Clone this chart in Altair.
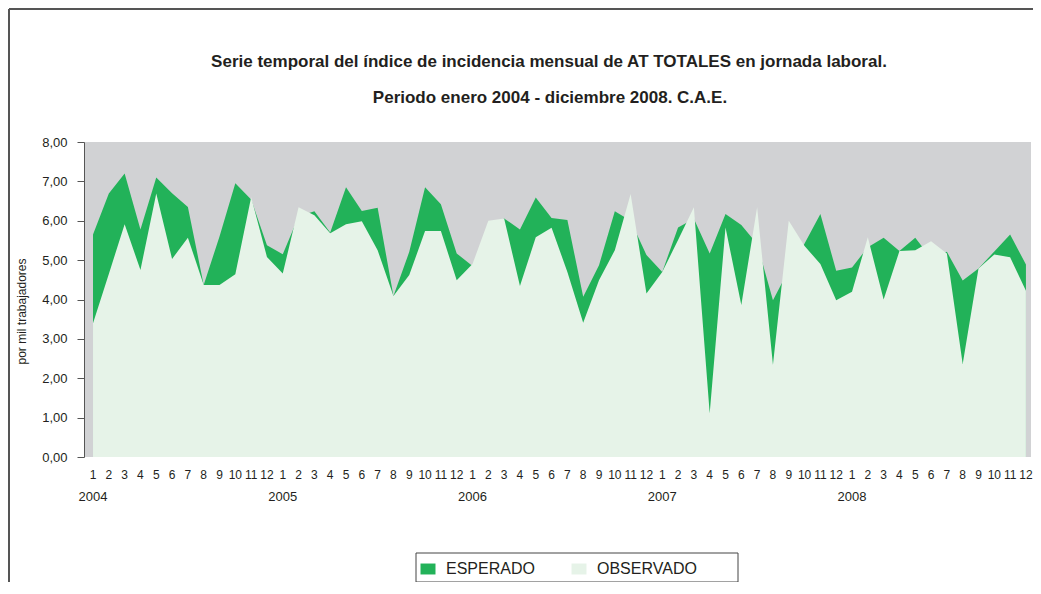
import altair as alt
import pandas as pd

titulo_1 = "Serie temporal del índice de incidencia mensual de AT TOTALES en jornada laboral."
titulo_2 = "Periodo enero 2004 - diciembre 2008. C.A.E."
eje_y_titulo = "por mil trabajadores"

anios = ["2004", "2005", "2006", "2007", "2008"]
meses = [str(m) for m in range(1, 13)]

esperado = [5.65, 6.69, 7.20, 5.78, 7.10, 6.70, 6.35, 4.37, 5.60, 6.95, 6.54, 5.38,
            5.15, 6.11, 6.24, 5.70, 6.85, 6.25, 6.33, 4.09, 5.21, 6.85, 6.42, 5.17,
            4.85, 5.90, 6.06, 5.78, 6.59, 6.07, 6.02, 4.07, 4.87, 6.24, 6.00, 5.13,
            4.70, 5.83, 6.05, 5.17, 6.17, 5.89, 5.41, 3.98, 4.75, 5.42, 6.17, 4.73,
            4.81, 5.33, 5.57, 5.23, 5.57, 5.05, 5.21, 4.48, 4.79, 5.22, 5.65, 4.89]

observado = [3.40, 4.65, 5.91, 4.75, 6.69, 5.03, 5.57, 4.37, 4.37, 4.64, 6.60, 5.08,
             4.66, 6.34, 6.14, 5.68, 5.91, 5.99, 5.25, 4.09, 4.62, 5.74, 5.74, 4.49,
             4.90, 6.00, 6.06, 4.34, 5.58, 5.82, 4.70, 3.41, 4.49, 5.25, 6.68, 4.15,
             4.70, 5.51, 6.34, 1.11, 5.83, 3.86, 6.34, 2.34, 6.00, 5.36, 4.90, 3.98,
             4.20, 5.58, 4.00, 5.23, 5.25, 5.48, 5.17, 2.36, 4.79, 5.14, 5.07, 4.22]

series = ["ESPERADO", "OBSERVADO"]
colores = ["#22b259", "#e6f3e8"]

n = len(esperado)
rows = []
for i in range(n):
    rows.append({"i": i, "mes": meses[i % 12], "anio": anios[i // 12],
                 "serie": "ESPERADO", "valor": esperado[i]})
for i in range(n):
    rows.append({"i": i, "mes": meses[i % 12], "anio": anios[i // 12],
                 "serie": "OBSERVADO", "valor": observado[i]})
df = pd.DataFrame(rows)
df_meses = pd.DataFrame({"i": list(range(n)), "mes": [meses[i % 12] for i in range(n)]})
df_years = pd.DataFrame({"i": [12 * k for k in range(len(anios))], "anio": anios})

FONT = "Liberation Sans"
W, H = 947, 315

xscale = alt.Scale(domain=[-0.57, 59.32], nice=False, zero=False)
color = alt.Color(
    "serie:N",
    scale=alt.Scale(domain=series, range=colores),
    legend=alt.Legend(
        title=None, orient="none", legendX=336, legendY=419,
        direction="horizontal", symbolType="M-1,-0.73H1V0.73H-1Z",
        symbolSize=225, symbolStrokeWidth=0, symbolOpacity=1,
        labelFont=FONT, labelFontSize=16, labelColor="#231f20",
        labelOffset=10, columnPadding=36, padding=0,
    ),
)

base = alt.Chart(df).encode(
    x=alt.X("i:Q", scale=xscale, axis=None),
    y=alt.Y("valor:Q", stack=None,
            scale=alt.Scale(domain=[0, 8], nice=False),
            axis=alt.Axis(title=eje_y_titulo, values=list(range(9)),
                          labelExpr="replace(format(datum.value, '.2f'), '.', ',')",
                          grid=False, domain=True, domainColor="#555555",
                          tickColor="#555555", tickSize=7, labelPadding=10,
                          labelFont=FONT, labelFontSize=13, labelColor="#231f20",
                          titleFont=FONT, titleFontSize=12, titleFontWeight="normal",
                          titleColor="#231f20", titleAngle=270, titleX=-63,
                          titleY=169, titleAlign="center", titleBaseline="middle")),
    color=color,
)

area_esp = base.transform_filter(alt.datum.serie == "ESPERADO").mark_area(opacity=1)
area_obs = base.transform_filter(alt.datum.serie == "OBSERVADO").mark_area(opacity=1)

months = alt.Chart(df_meses).mark_text(
    font=FONT, fontSize=12, color="#231f20", baseline="alphabetic", align="center"
).encode(x=alt.X("i:Q", scale=xscale, axis=None), y=alt.value(H + 22), text="mes:N")

years = alt.Chart(df_years).mark_text(
    font=FONT, fontSize=13, color="#231f20", baseline="alphabetic", align="center"
).encode(x=alt.X("i:Q", scale=xscale, axis=None), y=alt.value(H + 44), text="anio:N")

t1 = alt.Chart(pd.DataFrame({"t": [titulo_1]})).mark_text(
    font=FONT, fontSize=17, fontWeight="bold", color="#231f20",
    baseline="alphabetic", align="center"
).encode(x=alt.value(465), y=alt.value(-75), text="t:N")
t2 = alt.Chart(pd.DataFrame({"t": [titulo_2]})).mark_text(
    font=FONT, fontSize=17, fontWeight="bold", color="#231f20",
    baseline="alphabetic", align="center"
).encode(x=alt.value(466), y=alt.value(-39), text="t:N")

legend_box = alt.Chart(pd.DataFrame({"k": [0]})).mark_rect(
    fill="white", fillOpacity=0, stroke="#444444", strokeWidth=1
).encode(x=alt.value(332), x2=alt.value(654), y=alt.value(411), y2=alt.value(440))

frame_top = alt.Chart(pd.DataFrame({"k": [0]})).mark_rule(
    color="#555555", strokeWidth=2
).encode(x=alt.value(-75), x2=alt.value(W + 10), y=alt.value(-133))
frame_left = alt.Chart(pd.DataFrame({"k": [0]})).mark_rule(
    color="#555555", strokeWidth=2
).encode(x=alt.value(-75), y=alt.value(-133), y2=alt.value(H + 130))

chart = alt.layer(
    legend_box, area_esp, area_obs, months, years, t1, t2, frame_top, frame_left
).properties(
    width=W, height=H,
    autosize=alt.AutoSizeParams(type="none"),
    padding={"left": 76, "top": 134, "right": 2, "bottom": 125},
    background="white",
).configure_view(
    fill="#d1d2d4", stroke=None
)

chart.save("out.html", embed_options={"renderer": "svg", "actions": False})
